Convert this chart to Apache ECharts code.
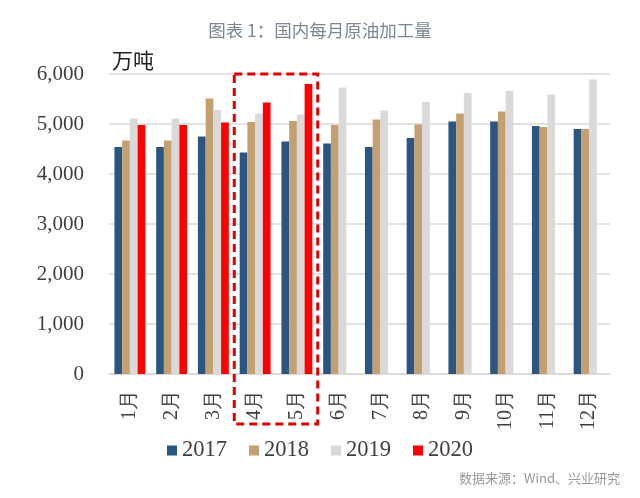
<!DOCTYPE html>
<html>
<head>
<meta charset="utf-8">
<script src="https://cdn.jsdelivr.net/npm/echarts@6/dist/echarts.min.js"></script>
<style>
html,body{margin:0;padding:0;background:#fff;}
#main{width:640px;height:498px;}
</style>
</head>
<body>
<div id="main"></div>
<script>
var categories = ['1月','2月','3月','4月','5月','6月','7月','8月','9月','10月','11月','12月'];
var seriesNames = ['2017','2018','2019','2020'];
var v2017 = [4540,4540,4750,4430,4650,4610,4540,4720,5050,5050,4960,4900];
var v2018 = [4670,4670,5510,5040,5060,4980,5090,4990,5210,5250,4940,4900];
var v2019 = [5110,5110,5280,5210,5190,5730,5270,5440,5620,5660,5590,5890];
var v2020 = [4980,4980,5030,5430,5800];
var yTicks = {min:0, max:6000, interval:1000};
var highlightCats = ['4月','5月'];

var colors = ['#2B5680','#C4A070','#D9D9D9','#FF0000'];
var serif = '"Liberation Serif","DejaVu Serif",serif';
var cjk = '"Noto Sans CJK SC","Noto Sans",sans-serif';

var chart = echarts.init(document.getElementById('main'), null, {renderer:'canvas'});
function fmt(v){ return String(v).replace(/\B(?=(\d{3})+(?!\d))/g, ','); }
function mk(name, data, i){
  return {name:name, type:'bar', data:data, barGap:'0%', barCategoryGap:'26%',
    itemStyle:{color:colors[i]}, animation:false};
}
var baseGraphic = [
  {type:'text', left:112, top:50, style:{text:'万吨', fontFamily:cjk, fontSize:21, fill:'#222'}},
  {type:'text', right:20, top:472, style:{text:'数据来源：Wind、兴业研究', fontFamily:cjk, fontSize:13, fill:'#999'}}
];
var option = {
  animation:false,
  title:{text:'图表 1：国内每月原油加工量', left:'center', top:17,
    textStyle:{fontFamily:cjk, fontSize:17.5, fontWeight:'normal', color:'#7B8794'}},
  grid:{left:109, right:30, top:74, bottom:124},
  legend:{data:seriesNames, bottom:31, left:'center', icon:'rect', itemWidth:10, itemHeight:10, itemGap:22,
    textStyle:{fontFamily:serif, fontSize:22.5, color:'#404040'}},
  xAxis:{type:'category', data:categories,
    axisLine:{lineStyle:{color:'#D9D9D9', width:1.5}}, axisTick:{show:false},
    axisLabel:{rotate:90, margin:16, interval:0, fontFamily:serif, fontSize:20, color:'#404040'}},
  yAxis:{type:'value', min:yTicks.min, max:yTicks.max, interval:yTicks.interval,
    axisLine:{show:false}, axisTick:{show:false},
    splitLine:{lineStyle:{color:'#D9D9D9', width:1.5}},
    axisLabel:{margin:25, formatter:fmt, fontFamily:serif, fontSize:21, color:'#404040'}},
  series:[mk(seriesNames[0],v2017,0), mk(seriesNames[1],v2018,1), mk(seriesNames[2],v2019,2), mk(seriesNames[3],v2020,3)],
  graphic:baseGraphic
};
chart.setOption(option);

// dashed annotation box around highlighted months
var c0 = chart.convertToPixel({xAxisIndex:0}, highlightCats[0]);
var c1 = chart.convertToPixel({xAxisIndex:0}, highlightCats[highlightCats.length-1]);
var step = chart.convertToPixel({xAxisIndex:0}, categories[1]) - chart.convertToPixel({xAxisIndex:0}, categories[0]);
var yTop = chart.convertToPixel({yAxisIndex:0}, yTicks.max);
var yBase = chart.convertToPixel({yAxisIndex:0}, yTicks.min);
var x0 = c0 - step/2, x1 = c1 + step/2;
chart.setOption({graphic:baseGraphic.concat([
  {type:'rect', shape:{x:x0, y:yTop, width:x1-x0, height:(yBase+50)-yTop}, z:100,
   style:{fill:'none', stroke:'#E00000', lineWidth:3, lineDash:[8,5]}}
])});
</script>
</body>
</html>
